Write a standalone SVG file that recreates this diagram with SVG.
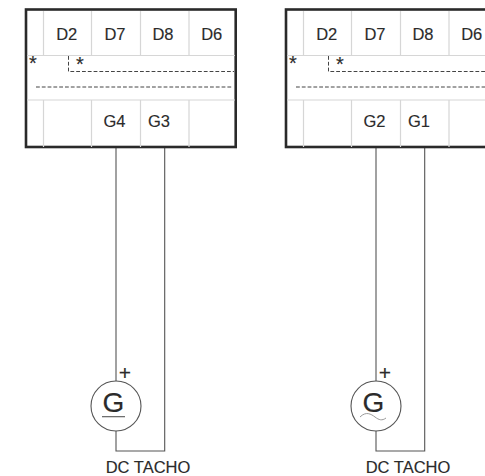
<svg xmlns="http://www.w3.org/2000/svg" width="485" height="476" viewBox="0 0 485 476">
<style>
text{font-family:"Liberation Sans",Arial,sans-serif;font-size:16.500px;fill:#2b2b2b;text-anchor:middle;stroke:#2b2b2b;stroke-width:.15}
.box{fill:#fff;stroke:#2a2a2a;stroke-width:2.6}
.grid{fill:none;stroke:#d6d6d6;stroke-width:1.2}
.dash{fill:none;stroke:#444;stroke-width:1;stroke-dasharray:3.800 2}
.wire{fill:none;stroke:#555;stroke-width:1.1}
.circ{fill:#fff;stroke:#555;stroke-width:1.1}
.g{font-size:28px}
.plus{font-size:21px}
.star{font-size:20px}
</style>
<defs>
<g id="grid">
<path class="grid" d="M43.500 11V55.500M91.500 11V55.500M140.500 11V55.500M189 11V55.500M43.500 100V147M91.500 100V147M140.500 100V147M189 100V147M27 55.500H235M27 100H235"/>
<path class="dash" d="M68.500 56V71.500H234M36 87H233"/>
<text class="star" x="33" y="70">*</text>
<text class="star" x="80" y="71">*</text>
<text x="66.700" y="40">D2</text>
<text x="115" y="40">D7</text>
<text x="163" y="40">D8</text>
<text x="211.700" y="40">D6</text>
</g>
</defs>
<g id="connectors">
<path class="wire" d="M116 148V451H164.700V148"/>
<path class="wire" d="M376 148V451H424.700V148"/>
</g>
<g id="drive-left">
<rect class="box" x="26" y="9.500" width="209.700" height="137.500"/>
<use href="#grid"/>
<text x="114.500" y="126.500">G4</text>
<text x="159" y="126.500">G3</text>
</g>
<g id="drive-right">
<rect class="box" x="286" y="9.500" width="209.700" height="137.500"/>
<use href="#grid" x="260"/>
<text x="374.500" y="126.500">G2</text>
<text x="419" y="126.500">G1</text>
</g>
<g id="tacho-left">
<circle class="circ" cx="116" cy="406" r="25"/>
<text class="g" x="113.500" y="412">G</text>
<path class="wire" d="M102 416.700H125"/>
<text class="plus" x="125" y="379.500">+</text>
<text x="148" y="472.500">DC TACHO</text>
</g>
<g id="tacho-right">
<circle class="circ" cx="376" cy="406" r="25"/>
<text class="g" x="373.500" y="412">G</text>
<path d="M360 417C366 411 371 414 375 417S382 421 386 418" fill="none" stroke="#999" stroke-width="1"/>
<text class="plus" x="385" y="379.500">+</text>
<text x="408" y="472.500">DC TACHO</text>
</g>
</svg>
